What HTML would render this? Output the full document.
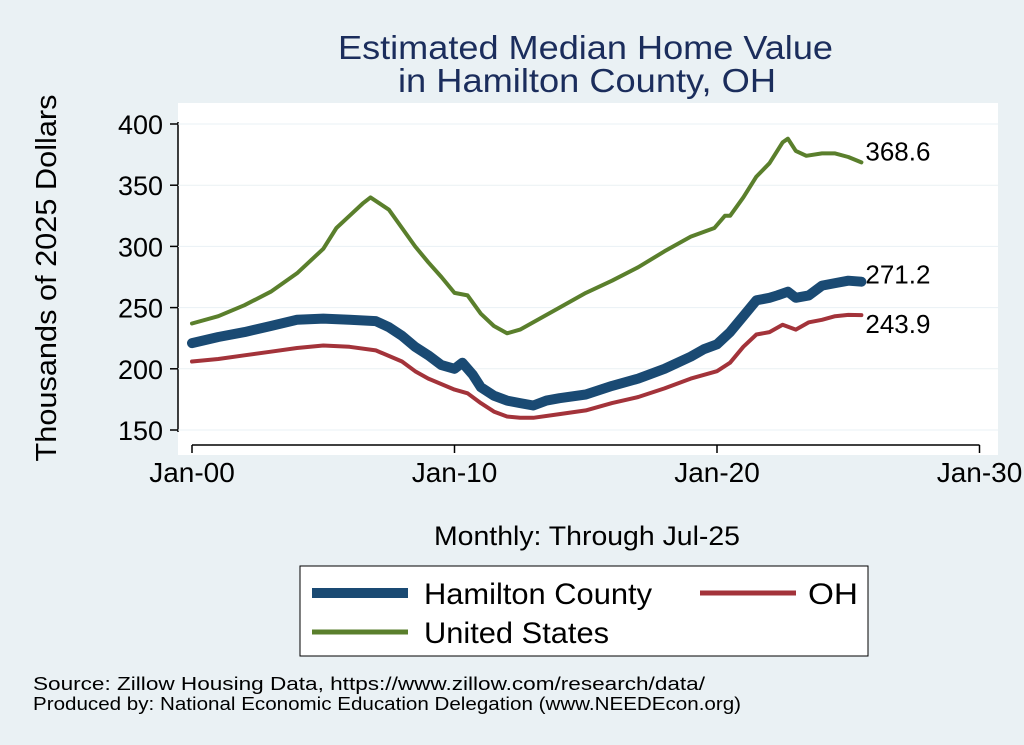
<!DOCTYPE html>
<html><head><meta charset="utf-8"><style>
body{margin:0;background:#eaf1f4;font-family:"Liberation Sans",sans-serif}
svg{display:block}
</style></head><body>
<svg width="1024" height="745" viewBox="0 0 1024 745">
<rect x="0" y="0" width="1024" height="745" fill="#eaf1f4"/>
<text x="338" y="59" textLength="495" lengthAdjust="spacingAndGlyphs" font-size="33" fill="#1b2d5c">Estimated Median Home Value</text>
<text x="398" y="92" textLength="378" lengthAdjust="spacingAndGlyphs" font-size="33" fill="#1b2d5c">in Hamilton County, OH</text>
<rect x="178" y="103" width="820" height="352" fill="#fff"/>
<g id="axes"></g>
<g id="series"></g>
<text transform="translate(56,278) rotate(-90)" text-anchor="middle" font-size="29" textLength="367" lengthAdjust="spacingAndGlyphs" fill="#000">Thousands of 2025 Dollars</text>
<text x="434" y="545" textLength="306" lengthAdjust="spacingAndGlyphs" font-size="27" fill="#000">Monthly: Through Jul-25</text>
<g>
<rect x="300" y="566" width="568" height="90" fill="#fff" stroke="#000" stroke-width="1"/>
<line x1="312" y1="593" x2="408" y2="593" stroke="#1a4a73" stroke-width="10"/>
<text x="424" y="604" font-size="30" textLength="228" lengthAdjust="spacingAndGlyphs">Hamilton County</text>
<line x1="700" y1="593" x2="796" y2="593" stroke="#a3333a" stroke-width="5"/>
<text x="808" y="604" font-size="30" textLength="50" lengthAdjust="spacingAndGlyphs">OH</text>
<line x1="312" y1="632" x2="408" y2="632" stroke="#5a7f2c" stroke-width="5"/>
<text x="424" y="643" font-size="30" textLength="185" lengthAdjust="spacingAndGlyphs">United States</text>
</g>
<text x="33" y="690" font-size="18" textLength="672" lengthAdjust="spacingAndGlyphs">Source: Zillow Housing Data, https://www.zillow.com/research/data/</text>
<text x="33" y="710" font-size="18" textLength="708" lengthAdjust="spacingAndGlyphs">Produced by: National Economic Education Delegation (www.NEEDEcon.org)</text>
</svg>
<script>
const yTicks=[150,200,250,300,350,400];
const xTickYears=[0,10,20,30];
const xTickLabels=["Jan-00","Jan-10","Jan-20","Jan-30"];
const usT=[0,1,2,3,4,5,5.5,6,6.5,6.8,7.5,8,8.5,9,9.5,10,10.5,11,11.5,12,12.5,13,14,15,16,17,18,19,19.9,20.3,20.5,21,21.5,22,22.5,22.7,23,23.4,24,24.5,25,25.5];
const usV=[237,243,252,263,278,298,315,325,335,340,330,315,300,287,275,262,260,245,235,229,232,238,250,262,272,283,296,308,315,325,325,340,357,368,385,388,378,374,376,376,373,368.6];
const hamT=[0,1,2,3,4,5,6,7,7.5,8,8.5,9,9.5,10,10.3,10.7,11,11.5,12,12.5,13,13.5,14,15,16,17,18,19,19.5,20,20.5,21,21.5,22,22.3,22.7,23,23.5,24,24.5,25,25.5];
const hamV=[221,226,230,235,240,241,240,239,234,227,218,211,203,200,205,195,185,178,174,172,170,174,176,179,186,192,200,210,216,220,230,243,256,258,260,263,258,260,268,270,272,271.2];
const ohT=[0,1,2,3,4,5,6,7,8,8.5,9,10,10.5,11,11.5,12,12.5,13,14,15,16,17,18,19,20,20.5,21,21.5,22,22.5,23,23.5,24,24.5,25,25.5];
const ohV=[206,208,211,214,217,219,218,215,206,198,192,183,180,172,165,161,160,160,163,166,172,177,184,192,198,205,218,228,230,236,232,238,240,243,244,243.9];
const endLabels=["368.6","271.2","243.9"];
const NS="http://www.w3.org/2000/svg";
const xs=t=>192+t*26.25, ys=v=>430-(v-150)*1.224;
const ax=document.getElementById('axes'), se=document.getElementById('series');
function mk(tag,attrs,parent){const e=document.createElementNS(NS,tag);for(const k in attrs)e.setAttribute(k,attrs[k]);parent.appendChild(e);return e;}
let l=mk('line',{x1:178,y1:ys(150)+2,x2:178,y2:ys(400)-2,stroke:'#000','stroke-width':1.5},ax);


l=mk('line',{x1:xs(0),y1:445,x2:xs(30),y2:445,stroke:'#000','stroke-width':1.5},ax);


yTicks.forEach(v=>{
 const t=mk('line',{x1:170,y1:ys(v),x2:178,y2:ys(v),stroke:'#000','stroke-width':1.5},ax);
 
 
 const g=mk('line',{x1:178,y1:ys(v),x2:998,y2:ys(v),stroke:'#eaf1f4','stroke-width':1},ax);
 
 
 const tx=mk('text',{x:163,y:ys(v)+10,'text-anchor':'end','font-size':27},ax);tx.textContent=v;
 
 
});
xTickYears.forEach((y,i)=>{
 const t=mk('line',{x1:xs(y),y1:445,x2:xs(y),y2:453,stroke:'#000','stroke-width':1.5},ax);
 
 
 const tx=mk('text',{x:xs(y),y:482,'text-anchor':'middle','font-size':28},ax);tx.textContent=xTickLabels[i];
 
 
});
function line(T,V,color,w,name){
 const d=T.map((t,i)=>(i?'L':'M')+xs(t).toFixed(1)+','+ys(V[i]).toFixed(1)).join('');
 const p=mk('path',{d:d,fill:'none',stroke:color,'stroke-width':w,'stroke-linejoin':'round','stroke-linecap':'round'},se);
 
 
}
line(usT,usV,'#5a7f2c',4,'us-line');
line(ohT,ohV,'#a3333a',4,'oh-line');
line(hamT,hamV,'#1a4a73',10,'hamilton-line');
[[usT,usV,0],[hamT,hamV,1],[ohT,ohV,2]].forEach(([T,V,i])=>{
 const n=T.length-1;
 const tx=mk('text',{x:xs(T[n])+4,y:ys(V[n])+(i==2?18:(i==0?-2:2)),'font-size':26},se);
 tx.textContent=endLabels[i];
 
 
});
</script>
</body></html>
